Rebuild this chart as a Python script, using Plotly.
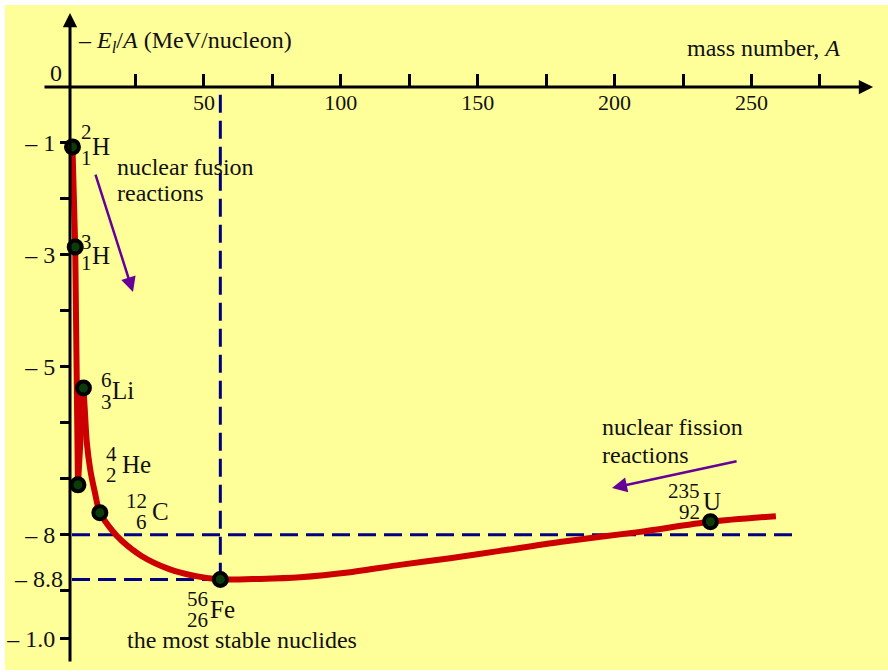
import plotly.graph_objects as go

# ---------------- data ----------------
# nuclides: mass number A and binding energy per nucleon (plotted as -E/A)
nuclide_A = [2, 3, 4, 6, 12, 56, 235]
nuclide_E = [-1.07, -2.86, -7.11, -5.38, -7.61, -8.8, -7.77]
mass_numbers = ["2", "3", "4", "6", "12", "56", "235"]
atomic_numbers = ["1", "1", "2", "3", "6", "26", "92"]
symbols = ["H", "H", "He", "Li", "C", "Fe", "U"]

# light-nuclide zig-zag (H -> He -> Li)
zigzag_A = [2, 3, 4, 6]
zigzag_E = [-1.07, -2.86, -7.11, -5.38]

# smooth part of the curve from Li to the heavy end
curve_A = [6, 6.5, 7.25, 8.5, 10.25, 12, 16.4, 20.0, 27.2, 37.1, 47.1, 56,
           70.5, 85.1, 103.4, 121.6, 139.9, 158.1, 180, 209.3, 235, 258.9]
curve_E = [-5.38, -5.77, -6.36, -6.84, -7.26, -7.61, -7.92, -8.11, -8.38,
           -8.61, -8.74, -8.8, -8.79, -8.76, -8.67, -8.54, -8.42, -8.29,
           -8.13, -7.95, -7.77, -7.67]

iron_A = 56
iron_E = -8.8
level_E = -8.0

x_tick_vals = [25, 50, 75, 100, 125, 150, 175, 200, 225, 250, 275]
x_tick_text = ["", "50", "", "100", "", "150", "", "200", "", "250", ""]
y_tick_vals = [-1, -2, -3, -4, -5, -6, -7, -8, -9, -9.85]
y_tick_text = ["– 1", "", "– 3", "", "– 5", "", "", "– 8", "", "– 1.0"]

# ---------------- styling ----------------
SERIF = "Liberation Serif, Times New Roman, serif"
INK = "#111111"
RED = "#cc0000"
NAVY = "#000080"
PURPLE = "#660099"
YELLOW = "#ffff99"

W, H = 888, 672
X_RANGE = [-24.47, 299.85]
Y_RANGE = [-10.454, 1.5547]

fig = go.Figure()

# dashed reference lines
dash = dict(color=NAVY, width=3, dash="18px,8px")
fig.add_trace(go.Scatter(x=[1.83, 265.2], y=[level_E, level_E], mode="lines",
                         line=dash, hoverinfo="skip"))
fig.add_trace(go.Scatter(x=[1.83, iron_A], y=[iron_E, iron_E], mode="lines",
                         line=dash, hoverinfo="skip"))
fig.add_trace(go.Scatter(x=[iron_A, iron_A], y=[-0.14, iron_E], mode="lines",
                         line=dash, hoverinfo="skip"))

# binding-energy curve
fig.add_trace(go.Scatter(x=zigzag_A, y=zigzag_E, mode="lines",
                         line=dict(color=RED, width=6), hoverinfo="skip"))
fig.add_trace(go.Scatter(x=curve_A, y=curve_E, mode="lines",
                         line=dict(color=RED, width=6, shape="spline",
                                   smoothing=0.8),
                         hoverinfo="skip"))

# nuclide markers
fig.add_trace(go.Scatter(x=nuclide_A, y=nuclide_E, mode="markers",
                         marker=dict(size=13, color="#0a3d0a",
                                     line=dict(color="black", width=4)),
                         hoverinfo="skip"))

# label offsets (pixels) for each nuclide:
# numbers' right edge dx, symbol left edge dx, mass dy, atomic dy, symbol dy
label_offsets = [
    (22, 17.5, -15, 11, 0),
    (19, 15, -5, 16, 8),
    (41, 42, -31, -10, -20),
    (30.6, 26.6, -8, 14, 2),
    (49, 50, -12, 9, -1),
    (-10.3, -12.3, 20, 41, 30),
    (-8.4, -9.4, -31, -10, -20),
]

annotations = []
for a, e, m, z, s, off in zip(nuclide_A, nuclide_E, mass_numbers,
                              atomic_numbers, symbols, label_offsets):
    dxn, dxs, dym, dyz, dys = off
    annotations.append(dict(x=a, y=e, text=m, showarrow=False,
                            xanchor="right", yanchor="middle",
                            xshift=dxn, yshift=-dym,
                            font=dict(family=SERIF, size=21, color=INK)))
    annotations.append(dict(x=a, y=e, text=z, showarrow=False,
                            xanchor="right", yanchor="middle",
                            xshift=dxn, yshift=-dyz,
                            font=dict(family=SERIF, size=21, color=INK)))
    annotations.append(dict(x=a, y=e, text=s, showarrow=False,
                            xanchor="left", yanchor="middle",
                            xshift=dxs, yshift=-dys,
                            font=dict(family=SERIF, size=25, color=INK)))

# axis arrows
annotations.append(dict(x=294.4, y=0, ax=-8.77, ay=0, axref="x", ayref="y",
                        text="", showarrow=True, arrowhead=2, arrowwidth=3,
                        arrowsize=0.95, arrowcolor="black", standoff=0))
annotations.append(dict(x=1.1, y=1.322, ax=1.1, ay=-10.293, axref="x",
                        ayref="y", text="", showarrow=True, arrowhead=2,
                        arrowwidth=3, arrowsize=0.95, arrowcolor="black",
                        standoff=0))

# reaction arrows
annotations.append(dict(x=24.1, y=-3.663, ax=10.23, ay=-1.537, axref="x",
                        ayref="y", text="", showarrow=True, arrowhead=2,
                        arrowwidth=2.5, arrowsize=1.2, arrowcolor=PURPLE,
                        standoff=0))
annotations.append(dict(x=199.05, y=-7.166, ax=245.1, ay=-6.683, axref="x",
                        ayref="y", text="", showarrow=True, arrowhead=2,
                        arrowwidth=2.5, arrowsize=1.2, arrowcolor=PURPLE,
                        standoff=0))


def paper_text(text, px, py, anchor="left", size=24):
    return dict(xref="paper", yref="paper", x=px / W, y=1 - py / H,
                text=text, showarrow=False, xanchor=anchor,
                yanchor="middle",
                font=dict(family=SERIF, size=size, color=INK))


annotations += [
    paper_text("– <i>E</i><sub><i>l</i></sub>/<i>A</i> (MeV/nucleon)", 76, 42),
    paper_text("mass number, <i>A</i>", 685, 48),
    paper_text("0", 56, 73, anchor="center"),
    paper_text("– 8.8", 65, 579, anchor="right"),
    paper_text("nuclear fusion", 115, 167),
    paper_text("reactions", 115, 193),
    paper_text("nuclear fission", 600, 427),
    paper_text("reactions", 600, 455),
    paper_text("the most stable nuclides", 125, 640),
]

fig.update_layout(
    width=W, height=H, autosize=False,
    margin=dict(l=0, r=0, t=0, b=0, pad=0),
    paper_bgcolor="white",
    plot_bgcolor="rgba(0,0,0,0)",
    showlegend=False,
    annotations=annotations,
    shapes=[dict(type="rect", xref="paper", yref="paper",
                 x0=5 / W, x1=1, y0=1 - 670 / H, y1=1 - 5 / H,
                 fillcolor=YELLOW, line=dict(width=0), layer="below")],
    xaxis=dict(range=X_RANGE, domain=[0, 1], anchor="free",
               position=1 - 87 / H, showline=False, showgrid=False,
               zeroline=False, ticks="inside", ticklen=13, tickwidth=2.5,
               tickcolor="black", tickmode="array", tickvals=x_tick_vals,
               ticktext=x_tick_text, automargin=False,
               tickfont=dict(family=SERIF, size=22, color=INK)),
    yaxis=dict(range=Y_RANGE, domain=[0, 1], anchor="free",
               position=70 / W, side="left", showline=False,
               showgrid=False, zeroline=False, ticks="outside", ticklen=10,
               tickwidth=2.5, tickcolor="black", tickmode="array",
               tickvals=y_tick_vals, ticktext=y_tick_text, automargin=False,
               tickfont=dict(family=SERIF, size=24, color=INK)),
)

fig.write_html("out.html")
